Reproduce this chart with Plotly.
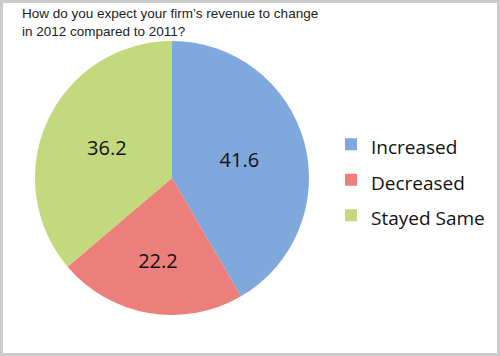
import plotly.graph_objects as go

categories = ["Increased", "Decreased", "Stayed Same"]
values = [41.6, 22.2, 36.2]
colors = ["#7fa8dc", "#ec7f7b", "#c4d97d"]
title_text = "How do you expect your firm’s revenue to change<br>in 2012 compared to 2011?"

W, H = 500, 356
legend_labels = [f"<span style='font-size:19px'>{c}</span>" for c in categories]

fig = go.Figure(go.Pie(
    labels=legend_labels,
    values=values,
    sort=False,
    direction="clockwise",
    rotation=0,
    marker=dict(colors=colors, line=dict(width=0)),
    textinfo="value",
    textposition="inside",
    insidetextorientation="horizontal",
    textfont=dict(family="Open Sans", size=20, color="#111"),
    hoverinfo="label+value",
    domain=dict(x=[35 / W, 309 / W], y=[1 - 315 / H, 1 - 41 / H]),
))

fig.update_layout(
    width=W, height=H,
    margin=dict(l=0, r=0, t=0, b=0),
    paper_bgcolor="white",
    annotations=[dict(
        text=title_text, showarrow=False, align="left",
        xref="paper", yref="paper", x=20 / W, xanchor="left",
        y=1 - 4 / H, yanchor="top",
        font=dict(family="Liberation Sans", size=13.5, color="#222"),
    )],
    legend=dict(
        x=331 / W, xanchor="left", y=1 - 180 / H, yanchor="middle",
        font=dict(family="Open Sans", size=25, color="#111"),
        bgcolor="rgba(0,0,0,0)",
    ),
    shapes=[dict(type="rect", xref="paper", yref="paper",
                 x0=1.5 / W, x1=1 - 1.5 / W, y0=1.5 / H, y1=1 - 1.5 / H,
                 line=dict(color="#cccccc", width=3))],
)

fig.write_html("out.html", config={"displayModeBar": False},
               post_script="document.body.style.margin='0';")
